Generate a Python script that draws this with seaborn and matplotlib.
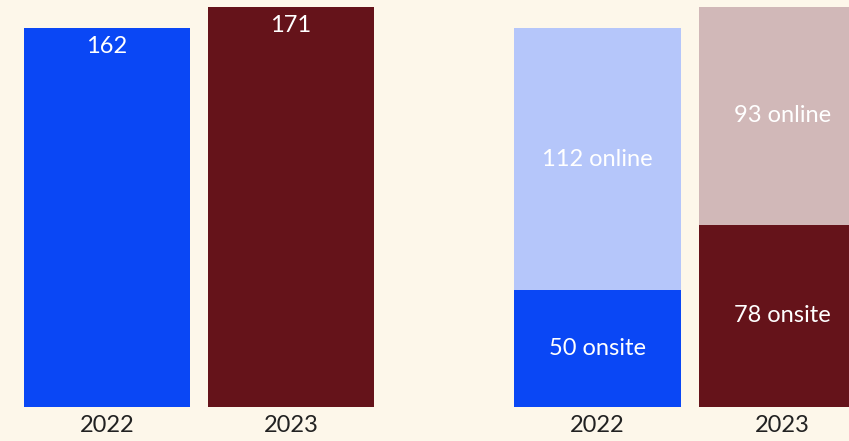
import matplotlib
matplotlib.use("Agg")
import matplotlib.pyplot as plt
import seaborn as sns
import pandas as pd

years = ["2022", "2023"]
totals = [162, 171]
onsite = [50, 78]
online = [112, 93]

bg = "#fdf7ea"
dark_colors = ["#0a47f5", "#65131a"]
light_colors = ["#b5c6fa", "#d1b8b8"]

sns.set_theme(style="white")
plt.rcParams["font.family"] = ["Lato", "DejaVu Sans"]

fig = plt.figure(figsize=(8.49, 4.41), dpi=100, facecolor=bg)
W, H = 849, 441
ax1 = fig.add_axes([15 / W, 34 / H, 368 / W, 407 / H])
ax2 = fig.add_axes([505 / W, 34 / H, 344 / W, 407 / H])

label_kw = dict(color="white", fontsize=17)

df_tot = pd.DataFrame({"year": years, "total": totals})
sns.barplot(data=df_tot, x="year", y="total", hue="year", palette=dark_colors,
            width=0.9, legend=False, ax=ax1, saturation=1, linewidth=0)
for i, v in enumerate(totals):
    ax1.annotate(str(v), (i, v), xytext=(0, -6), textcoords="offset points",
                 ha="center", va="top", **label_kw)

# stacked: draw full bar in light colour, then onsite part over it
df_st = pd.DataFrame({"year": years, "total": [a + b for a, b in zip(onsite, online)],
                      "onsite": onsite})
sns.barplot(data=df_st, x="year", y="total", hue="year", palette=light_colors,
            width=0.9, legend=False, ax=ax2, saturation=1, linewidth=0)
sns.barplot(data=df_st, x="year", y="onsite", hue="year", palette=dark_colors,
            width=0.9, legend=False, ax=ax2, saturation=1, linewidth=0)
for i in range(len(years)):
    ax2.text(i, onsite[i] / 2, f"{onsite[i]} onsite", ha="center", va="center",
             **label_kw)
    ax2.text(i, onsite[i] + online[i] / 2, f"{online[i]} online", ha="center",
             va="center", **label_kw)

for ax in (ax1, ax2):
    ax.set_facecolor(bg)
    ax.set_ylim(0, 174)
    ax.set_xlabel("")
    ax.set_ylabel("")
    ax.set_yticks([])
    ax.tick_params(axis="x", length=0, pad=6, labelsize=17, labelcolor="#222222")
    sns.despine(ax=ax, left=True, bottom=True)
ax1.set_xlim(-0.5, 1.5)
ax2.set_xlim(-0.5, 1.359)

fig.savefig("out.png", dpi=100, facecolor=bg)
